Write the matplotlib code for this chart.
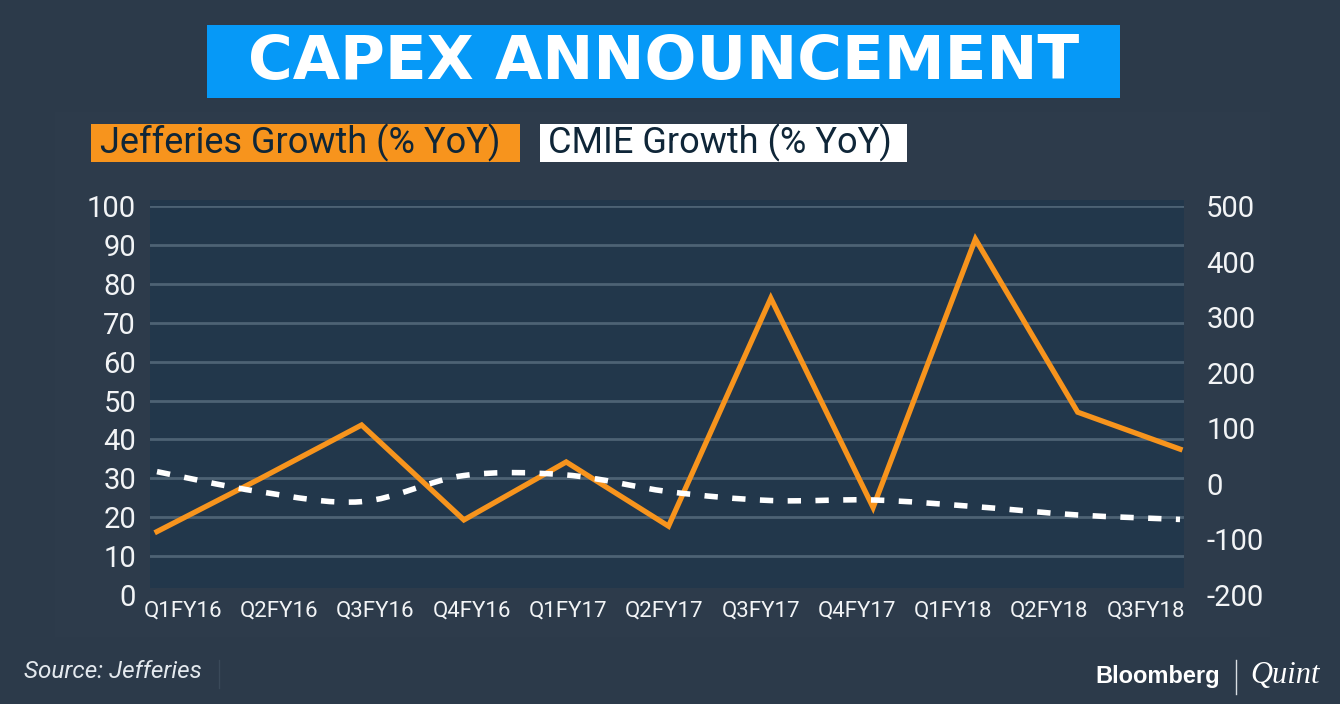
import numpy as np
import matplotlib.pyplot as plt
from matplotlib.patches import Rectangle, PathPatch
from matplotlib.path import Path
from matplotlib.lines import Line2D

# --------------------------
# data
# --------------------------
quarters = ["Q1FY16", "Q2FY16", "Q3FY16", "Q4FY16", "Q1FY17", "Q2FY17",
            "Q3FY17", "Q4FY17", "Q1FY18", "Q2FY18", "Q3FY18"]
jefferies = [16.3, 29.8, 43.7, 19.3, 34.2, 17.7, 76.3, 22.5, 91.5, 47.0, 37.5]   # left axis
cmie = [22, -14, -32, 15, 16, -14, -30, -29, -41, -56, -64]                     # right axis
left_ticks = list(range(0, 101, 10))
right_ticks = list(range(-200, 501, 100))

# --------------------------
# colours / layout helpers
# --------------------------
W, H = 1340, 704
BG = "#2c3a4a"
PANEL = "#2d3b4b"
PLOT_BG = "#22374b"
GRID = "#4d6274"
ORANGE = "#f7941d"
BLUE = "#0699f7"
NAVY = "#0f2638"
TXT = "#f2f4f6"


def fbox(x0, y0, x1, y1):
    # pixel box (top-left origin) -> figure fraction rect
    return [x0 / W, 1 - y1 / H, (x1 - x0) / W, (y1 - y0) / H]


def frect(x0, y0, x1, y1, color, z=-2):
    l, b, w, h = fbox(x0, y0, x1, y1)
    fig.patches.append(Rectangle((l, b), w, h, transform=fig.transFigure,
                                 facecolor=color, edgecolor="none", zorder=z))


plt.rcParams["font.family"] = ["Roboto", "DejaVu Sans"]
plt.rcParams["axes.unicode_minus"] = False

fig = plt.figure(figsize=(W / 100, H / 100), dpi=100, facecolor=BG)

# background panels
frect(55, 112, 1270, 637, PANEL, -3)
frect(150, 200, 1184, 588, PLOT_BG)

# title
frect(207, 25, 1120, 98, BLUE)
fig.text(664 / W, 1 - 62 / H, "CAPEX ANNOUNCEMENT", ha="center", va="center",
         color="white", fontsize=44, fontweight="bold", family="DejaVu Sans")

# legend boxes
frect(91, 124, 520, 162, ORANGE)
fig.text(100 / W, 1 - 143 / H, "Jefferies Growth (% YoY)", ha="left", va="center",
         color=NAVY, fontsize=26)
frect(540, 124, 907, 162, "white")
fig.text(548 / W, 1 - 143 / H, "CMIE Growth (% YoY)", ha="left", va="center",
         color=NAVY, fontsize=26)

# --------------------------
# chart
# --------------------------
ax = fig.add_axes(fbox(150, 206, 1184, 595))
ax.set_facecolor("none")
x = np.arange(len(quarters))
ax.set_xlim(-7 / 102.3, 10 + 4 / 102.3)
ax.set_ylim(0, 100)
ax.set_yticks(left_ticks)
for t in left_ticks[1:]:
    ax.axhline(t, color=GRID, lw=2, zorder=1)
for s in ax.spines.values():
    s.set_visible(False)
ax.tick_params(axis="y", length=0, pad=10, labelsize=21, labelcolor=TXT)
ax.tick_params(axis="x", length=0, pad=4, labelsize=16, labelcolor=TXT)
ax.set_xticks(0.254 + 0.941 * x)
ax.set_xticklabels(quarters)

ax.plot(x, jefferies, color=ORANGE, lw=3.8, solid_joinstyle="miter", zorder=4)

ax2 = ax.twinx()
ax2.set_ylim(right_ticks[0], right_ticks[-1])
ax2.set_yticks(right_ticks)
for s in ax2.spines.values():
    s.set_visible(False)
ax2.tick_params(axis="y", length=0, pad=16, labelsize=21, labelcolor=TXT)

# smooth curve through the CMIE points (Catmull-Rom as cubic bezier)
px = x.astype(float)
py = np.array(cmie, dtype=float)
verts = [(px[0], py[0])]
codes = [Path.MOVETO]
for i in range(len(px) - 1):
    p0 = (px[max(i - 1, 0)], py[max(i - 1, 0)])
    p1 = (px[i], py[i])
    p2 = (px[i + 1], py[i + 1])
    p3 = (px[min(i + 2, len(px) - 1)], py[min(i + 2, len(px) - 1)])
    c1 = (p1[0] + (p2[0] - p0[0]) / 6, p1[1] + (p2[1] - p0[1]) / 6)
    c2 = (p2[0] - (p3[0] - p1[0]) / 6, p2[1] - (p3[1] - p1[1]) / 6)
    verts += [c1, c2, p2]
    codes += [Path.CURVE4] * 3
ax2.add_patch(PathPatch(Path(verts, codes), facecolor="none", edgecolor="white",
                        lw=4, linestyle=(0, (2.4, 2.6)), capstyle="butt", zorder=3))

# --------------------------
# footer
# --------------------------
fig.text(24 / W, 1 - 672 / H, "Source: Jefferies", ha="left", va="center",
         color="#e4e9ee", fontsize=17.5, style="italic")
fig.lines.append(Line2D([219 / W, 219 / W], [1 - 660 / H, 1 - 688 / H],
                        transform=fig.transFigure, color="#3a4959", lw=1))
fig.text(1095 / W, 1 - 677 / H, "Bloomberg", ha="left", va="center",
         color="white", fontsize=17, fontweight="bold", family="Liberation Sans")
fig.lines.append(Line2D([1236 / W, 1236 / W], [1 - 660 / H, 1 - 694 / H],
                        transform=fig.transFigure, color="#d8dde2", lw=1))
fig.text(1250 / W, 1 - 676 / H, "Quint", ha="left", va="center",
         color="white", fontsize=22, style="italic", family="Liberation Serif")

fig.savefig("out.png", dpi=100, facecolor=BG)
